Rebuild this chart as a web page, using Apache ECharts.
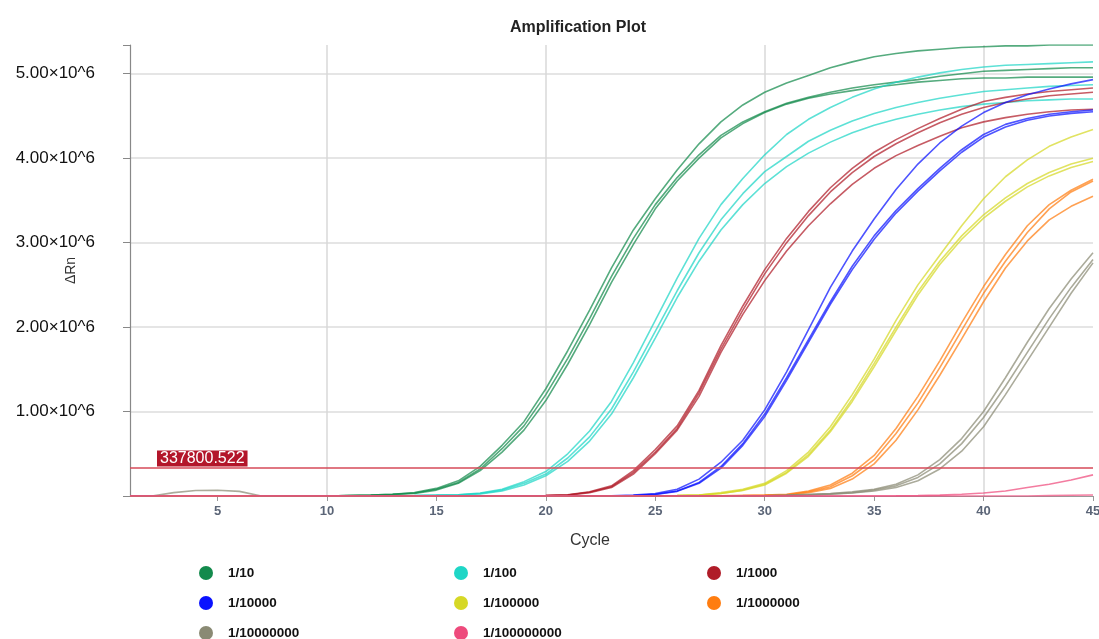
<!DOCTYPE html>
<html>
<head>
<meta charset="utf-8">
<script src="https://cdn.jsdelivr.net/npm/echarts@6/dist/echarts.min.js"></script>
<style>html,body{margin:0;padding:0;background:#fff}#c{width:1099px;height:639px}</style>
</head>
<body>
<div id="c"></div>
<script>
// Cycles 1..45
const cycles = [1,2,3,4,5,6,7,8,9,10,11,12,13,14,15,16,17,18,19,20,21,22,23,24,25,26,27,28,29,30,31,32,33,34,35,36,37,38,39,40,41,42,43,44,45];
const yTicks = [1e6, 2e6, 3e6, 4e6, 5e6];
const threshold = 337800.522;
const dilutions = ['1/10','1/100','1/1000','1/10000','1/100000','1/1000000','1/10000000','1/100000000'];
const colors = ['#138a4c','#1fd6c6','#b01c28','#0a12ff','#d6d826','#ff7d10','#8a8a74','#ee4a7c'];

// ΔRn values in millions (×10^6), one entry per cycle 1..45
const g1 = [0,0,0,0,0,0,0,0,0,0, 0.005,0.01,0.02,0.04,0.09, 0.18,0.35,0.6,0.88,1.27, 1.72,2.2,2.7,3.15,3.52, 3.86,4.17,4.43,4.63,4.78, 4.89,4.98,5.07,5.14,5.2, 5.24,5.27,5.29,5.31,5.32, 5.33,5.33,5.34,5.34,5.34];
const g2 = [0,0,0,0,0,0,0,0,0,0, 0.005,0.01,0.02,0.035,0.08, 0.16,0.32,0.56,0.83,1.2, 1.63,2.1,2.6,3.05,3.45, 3.77,4.04,4.27,4.43,4.55, 4.65,4.72,4.78,4.83,4.87, 4.9,4.93,4.97,5.0,5.03, 5.04,5.05,5.06,5.07,5.07];
const g3 = [0,0,0,0,0,0,0,0,0,0, 0.004,0.008,0.018,0.03,0.07, 0.15,0.3,0.52,0.78,1.13, 1.56,2.03,2.53,2.98,3.4, 3.73,4.0,4.24,4.41,4.54, 4.64,4.71,4.76,4.8,4.84, 4.87,4.9,4.92,4.94,4.95, 4.95,4.96,4.96,4.96,4.96];
const c1 = [0,0,0,0,0,0,0,0,0,0, 0,0,0.003,0.005,0.01, 0.015,0.035,0.08,0.17,0.29, 0.5,0.77,1.12,1.58,2.08, 2.58,3.05,3.45,3.76,4.04, 4.28,4.46,4.6,4.72,4.82, 4.9,4.96,5.01,5.05,5.08, 5.1,5.11,5.12,5.13,5.14];
const c2 = [0,0,0,0,0,0,0,0,0,0, 0,0,0.002,0.004,0.008, 0.013,0.03,0.07,0.15,0.26, 0.45,0.7,1.03,1.47,1.95, 2.43,2.88,3.27,3.58,3.84, 4.02,4.2,4.33,4.44,4.53, 4.6,4.66,4.71,4.75,4.79, 4.81,4.83,4.85,4.86,4.87];
const c3 = [0,0,0,0,0,0,0,0,0,0, 0,0,0.002,0.003,0.007, 0.012,0.025,0.06,0.13,0.24, 0.41,0.65,0.97,1.4,1.87, 2.35,2.78,3.15,3.45,3.7, 3.9,4.06,4.19,4.3,4.39, 4.46,4.52,4.57,4.61,4.64, 4.66,4.68,4.69,4.7,4.7];
const r1 = [0,0,0,0,0,0,0,0,0,0, 0,0,0,0,0, 0,0,0,0.003,0.005, 0.015,0.05,0.12,0.3,0.55, 0.83,1.25,1.78,2.25,2.68, 3.05,3.37,3.65,3.88,4.07, 4.22,4.35,4.47,4.58,4.67, 4.72,4.76,4.79,4.81,4.83];
const r2 = [0,0,0,0,0,0,0,0,0,0, 0,0,0,0,0, 0,0,0,0.002,0.004, 0.012,0.045,0.11,0.28,0.52, 0.8,1.22,1.74,2.2,2.63, 3.0,3.32,3.6,3.83,4.02, 4.17,4.3,4.42,4.52,4.6, 4.66,4.7,4.74,4.76,4.78];
const r3 = [0,0,0,0,0,0,0,0,0,0, 0,0,0,0,0, 0,0,0,0.002,0.004, 0.01,0.04,0.1,0.26,0.5, 0.78,1.18,1.7,2.15,2.55, 2.9,3.2,3.46,3.69,3.88, 4.03,4.15,4.26,4.36,4.43, 4.48,4.52,4.55,4.57,4.58];
const b1 = [0,0,0,0,0,0,0,0,0,0, 0,0,0,0,0, 0,0,0,0,0, 0,0,0.003,0.01,0.03, 0.08,0.2,0.4,0.66,1.02, 1.47,1.97,2.47,2.9,3.28, 3.63,3.93,4.18,4.38,4.54, 4.66,4.75,4.82,4.88,4.93];
const b2 = [0,0,0,0,0,0,0,0,0,0, 0,0,0,0,0, 0,0,0,0,0, 0,0,0.002,0.005,0.02, 0.06,0.16,0.35,0.62,0.97, 1.4,1.85,2.3,2.72,3.08, 3.38,3.64,3.88,4.1,4.28, 4.4,4.47,4.52,4.55,4.57];
const b3 = [0,0,0,0,0,0,0,0,0,0, 0,0,0,0,0, 0,0,0,0,0, 0,0,0.002,0.004,0.018, 0.055,0.15,0.33,0.6,0.94, 1.37,1.82,2.27,2.68,3.04, 3.35,3.61,3.85,4.07,4.25, 4.37,4.45,4.5,4.53,4.55];
const y1 = [0,0,0,0,0,0,0,0,0,0, 0,0,0,0,0, 0,0,0,0,0, 0,0,0,0,0.003, 0.006,0.012,0.04,0.08,0.15, 0.3,0.52,0.82,1.2,1.62, 2.08,2.5,2.85,3.2,3.52, 3.78,3.98,4.14,4.25,4.34];
const y2 = [0,0,0,0,0,0,0,0,0,0, 0,0,0,0,0, 0,0,0,0,0, 0,0,0,0,0.002, 0.005,0.01,0.03,0.07,0.14, 0.28,0.49,0.78,1.15,1.57, 2.0,2.42,2.78,3.08,3.33, 3.53,3.7,3.83,3.93,4.0];
const y3 = [0,0,0,0,0,0,0,0,0,0, 0,0,0,0,0, 0,0,0,0,0, 0,0,0,0,0.002, 0.004,0.01,0.03,0.065,0.13, 0.27,0.47,0.76,1.12,1.53, 1.96,2.38,2.74,3.04,3.29, 3.49,3.66,3.79,3.89,3.96];
const o1 = [0,0,0,0,0,0,0,0,0,0, 0,0,0,0,0, 0,0,0,0,0, 0,0,0,0,0, 0,0,0.003,0.006,0.01, 0.02,0.06,0.13,0.27,0.48, 0.8,1.18,1.6,2.05,2.48, 2.86,3.2,3.45,3.62,3.75];
const o2 = [0,0,0,0,0,0,0,0,0,0, 0,0,0,0,0, 0,0,0,0,0, 0,0,0,0,0, 0,0,0.002,0.005,0.008, 0.015,0.05,0.11,0.24,0.43, 0.74,1.1,1.52,1.96,2.4, 2.78,3.12,3.4,3.6,3.73];
const o3 = [0,0,0,0,0,0,0,0,0,0, 0,0,0,0,0, 0,0,0,0,0, 0,0,0,0,0, 0,0,0.002,0.004,0.007, 0.012,0.04,0.09,0.2,0.38, 0.66,1.02,1.43,1.86,2.3, 2.7,3.02,3.27,3.43,3.55];
const k1 = [0,0,0.04,0.065,0.068,0.055,0,0,0,0, 0,0,0,0,0, 0,0,0,0,0, 0,0,0,0,0, 0,0,0,0,0.003, 0.01,0.02,0.03,0.05,0.08, 0.14,0.25,0.43,0.68,1.0, 1.4,1.82,2.22,2.57,2.88];
const k2 = [0,0,0,0,0,0,0,0,0,0, 0,0,0,0,0, 0,0,0,0,0, 0,0,0,0,0, 0,0,0,0,0.003, 0.008,0.015,0.025,0.04,0.07, 0.12,0.22,0.38,0.62,0.93, 1.3,1.7,2.1,2.47,2.8];
const k3 = [0,0,0,0,0,0,0,0,0,0, 0,0,0,0,0, 0,0,0,0,0, 0,0,0,0,0, 0,0,0,0,0.002, 0.006,0.012,0.02,0.035,0.06, 0.1,0.18,0.32,0.53,0.82, 1.2,1.6,2.0,2.4,2.76];
const p1 = [0,0,0,0,0,0,0,0,0,0, 0,0,0,0,0, 0,0,0,0,0, 0,0,0,0,0, 0,0,0,0,0, 0,0,0,0,0, 0.002,0.005,0.01,0.02,0.035, 0.06,0.1,0.14,0.19,0.25];
const p2 = [0,0,0,0,0,0,0,0,0,0, 0,0,0,0,0, 0,0,0,0,0, 0,0,0,0,0, 0,0,0,0,0, 0,0,0,0,0, 0,0,0,0,0, 0,0,0.004,0.008,0.012];

const groups = [
  [0, [g1, g2, g3]],
  [1, [c1, c2, c3]],
  [2, [r1, r2, r3]],
  [3, [b1, b2, b3]],
  [4, [y1, y2, y3]],
  [5, [o1, o2, o3]],
  [6, [k1, k2, k3]],
  [7, [p1, p2]]
];

const series = [];
groups.forEach(([gi, reps]) => {
  reps.forEach(arr => {
    series.push({
      type: 'line',
      name: dilutions[gi],
      data: cycles.map((c, i) => [c, arr[i] * 1e6]),
      showSymbol: false,
      symbol: 'none',
      itemStyle: { color: colors[gi] },
      lineStyle: { color: colors[gi], width: 1.6, opacity: 0.72 },
      silent: true
    });
  });
});
series[series.length - 1].markLine = {
  silent: true,
  symbol: ['none', 'none'],
  animation: false,
  lineStyle: { color: '#d64a58', width: 1.5, type: 'solid', opacity: 1 },
  label: {
    show: true,
    position: 'insideStartTop',
    distance: [27, 1],
    formatter: '337800.522',
    color: '#fff',
    backgroundColor: '#b3162a',
    fontSize: 16,
    padding: [0, 3, 0, 3],
    lineHeight: 16
  },
  data: [{ yAxis: threshold }]
};

const legendText = { fontWeight: 'bold', fontSize: 13.5, color: '#111', padding: [0, 0, 0, 10] };
const mkLegend = (left, data) => ({
  left: left, top: 566, height: 90, orient: 'vertical', data: data, itemGap: 16,
  itemWidth: 14, itemHeight: 14, icon: 'circle', padding: 0,
  selectedMode: false, textStyle: legendText
});

const option = {
  animation: false,
  textStyle: { fontFamily: 'Liberation Sans, Arial, sans-serif' },
  title: {
    text: 'Amplification Plot', left: 578, top: 20, padding: 0, textAlign: 'center',
    textStyle: { fontSize: 16, fontWeight: 'bold', color: '#222' }
  },
  grid: { left: 130, right: 6, top: 45, bottom: 143, outerBoundsMode: 'none', containLabel: false },
  legend: [
    mkLegend(199, ['1/10', '1/10000', '1/10000000']),
    mkLegend(454, ['1/100', '1/100000', '1/100000000']),
    mkLegend(707, ['1/1000', '1/1000000'])
  ],
  xAxis: [
    {
      type: 'value', min: 1, max: 45, minInterval: 5, maxInterval: 5,
      name: 'Cycle', nameLocation: 'middle', nameGap: 37, nameMoveOverlap: false,
      nameTextStyle: { fontSize: 16, color: '#333', padding: [0, 43, 0, 0] },
      axisLine: { show: true, lineStyle: { color: '#999', width: 1.2 } },
      axisTick: { show: true, length: 5, lineStyle: { color: '#999' } },
      axisLabel: {
        color: '#5b6577', fontWeight: 'bold', fontSize: 13, margin: 9, showMinLabel: false,
        formatter: v => (v % 5 === 0 ? String(v) : '')
      },
      splitLine: { show: false }
    },
    {
      type: 'value', min: 1, max: 45, minInterval: 10, maxInterval: 10, position: 'bottom',
      axisLine: { show: false }, axisTick: { show: false }, axisLabel: { show: false },
      splitLine: { show: true, showMinLine: false, showMaxLine: false, lineStyle: { color: '#d9d9d9', width: 1.5 } }
    }
  ],
  yAxis: {
    type: 'value', min: 0, max: 5.34e6, interval: 1e6,
    name: 'ΔRn', nameLocation: 'middle', nameGap: 52, nameMoveOverlap: false,
    nameTextStyle: { fontSize: 14, color: '#333' },
    axisLine: { show: true, lineStyle: { color: '#888', width: 1.2 } },
    axisTick: { show: true, length: 7, lineStyle: { color: '#888' } },
    axisLabel: {
      color: '#111', fontSize: 17, margin: 35,
      formatter: v => (yTicks.indexOf(v) >= 0 ? (v / 1e6).toFixed(2) + '×10^6' : '')
    },
    splitLine: { show: true, showMinLine: false, showMaxLine: false, lineStyle: { color: '#dcdcdc', width: 1.5 } }
  },
  series: series
};

const chart = echarts.init(document.getElementById('c'), null, { renderer: 'canvas' });
chart.setOption(option);
</script>
</body>
</html>
